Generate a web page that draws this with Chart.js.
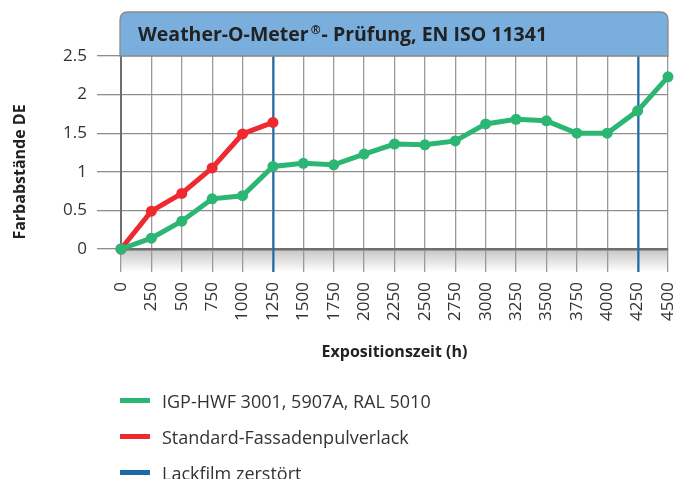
<!DOCTYPE html>
<html><head><meta charset="utf-8">
<script src="https://cdn.jsdelivr.net/npm/chart.js@4/dist/chart.umd.min.js"></script>
<style>
html,body{margin:0;padding:0;background:#fff;}
#wrap{position:relative;width:693px;height:479px;overflow:hidden;}
#c{position:absolute;left:0;top:0;}
.leg{position:absolute;left:120px;height:36px;font-family:"Open Sans",sans-serif;font-size:18px;color:#333;white-space:nowrap;}
.leg .sw{position:absolute;left:0;top:-3px;width:30px;height:5px;}
.leg .tx{position:absolute;left:42px;top:-13px;line-height:26px;}
</style></head>
<body>
<div id="wrap">
<canvas id="c" width="693" height="479"></canvas>
</div>
<script>
const hours = [0,250,500,750,1000,1250,1500,1750,2000,2250,2500,2750,3000,3250,3500,3750,4000,4250,4500];
const igpValues = [0,0.14,0.36,0.65,0.69,1.07,1.11,1.09,1.23,1.36,1.35,1.40,1.62,1.68,1.66,1.50,1.50,1.79,2.23];
const standardHours = [0,250,500,750,1000,1250];
const standardValues = [0,0.49,0.72,1.05,1.49,1.64];
const destroyedAt = [1250,4250];
const seriesNames = ['IGP-HWF 3001, 5907A, RAL 5010','Standard-Fassadenpulverlack','Lackfilm zerstört'];
const seriesColors = ['#2bb673','#ee2a30','#1d6aa8'];
const chartTitleMain = 'Weather-O-Meter';
const chartTitleSup = '®';
const chartTitleRest = '- Prüfung, EN ISO 11341';
const yTitle = 'Farbabstände DE';
const xTitle = 'Expositionszeit (h)';

const FONT = '"Open Sans", sans-serif';
const BAND = 23;

const deco = {
  id:'deco',
  beforeDraw(chart){
    const {ctx, chartArea:a} = chart;
    const g = ctx.createLinearGradient(0,a.bottom,0,a.bottom+BAND);
    g.addColorStop(0,'#c4c4c6');
    g.addColorStop(1,'#ffffff');
    ctx.save();
    ctx.fillStyle = g;
    ctx.fillRect(a.left,a.bottom,a.right-a.left,BAND);
    ctx.restore();
  },
  beforeDatasetsDraw(chart){
    const {ctx, chartArea:a, scales:{x}} = chart;
    ctx.save();
    ctx.strokeStyle = seriesColors[2];
    ctx.lineWidth = 2;
    destroyedAt.forEach(v=>{
      const px = Math.round(x.getPixelForValue(v))+0.5;
      ctx.beginPath();ctx.moveTo(px,a.top);ctx.lineTo(px,a.bottom+BAND);ctx.stroke();
    });
    ctx.restore();
  },
  afterDraw(chart){
    const {ctx, chartArea:a} = chart;
    ctx.save();
    const l=a.left-1, r=a.right, t=12, b=a.top, rad=8;
    ctx.beginPath();
    ctx.moveTo(l,b);ctx.lineTo(l,t+rad);ctx.quadraticCurveTo(l,t,l+rad,t);
    ctx.lineTo(r-rad,t);ctx.quadraticCurveTo(r,t,r,t+rad);ctx.lineTo(r,b);ctx.closePath();
    ctx.fillStyle='#7aaedd';ctx.fill();
    ctx.strokeStyle='#8a8a8a';ctx.lineWidth=1.3;ctx.stroke();
    ctx.fillStyle='#222';
    ctx.textBaseline='alphabetic';ctx.textAlign='left';
    let xx=l+18; const base=41;
    ctx.font='bold 19.5px '+FONT;
    ctx.fillText(chartTitleMain,xx,base); xx+=ctx.measureText(chartTitleMain).width+2;
    ctx.font='bold 12px '+FONT;
    ctx.fillText(chartTitleSup,xx,base-7); xx+=ctx.measureText(chartTitleSup).width+1;
    ctx.font='bold 19.5px '+FONT;
    ctx.fillText(chartTitleRest,xx,base);
    ctx.translate(20,172);ctx.rotate(-Math.PI/2);
    ctx.font='bold 16px '+FONT;ctx.textAlign='center';ctx.textBaseline='middle';ctx.fillStyle='#222';
    ctx.fillText(yTitle,0,0);
    ctx.restore();
  }
};

new Chart(document.getElementById('c'),{
  type:'line',
  data:{datasets:[
    {label:seriesNames[0],data:hours.map((h,i)=>({x:h,y:igpValues[i]})),borderColor:seriesColors[0],backgroundColor:seriesColors[0],
     borderWidth:5,pointRadius:5.5,pointBorderWidth:0,pointBackgroundColor:seriesColors[0],clip:false,tension:0},
    {label:seriesNames[1],data:standardHours.map((h,i)=>({x:h,y:standardValues[i]})),borderColor:seriesColors[1],backgroundColor:seriesColors[1],
     borderWidth:5,pointRadius:5.5,pointBorderWidth:0,pointBackgroundColor:seriesColors[1],clip:false,tension:0}
  ]},
  options:{
    responsive:false,animation:false,devicePixelRatio:1,
    layout:{padding:{left:0,right:25,top:56,bottom:109}},
    plugins:{legend:{display:false},tooltip:{enabled:false},title:{display:false}},
    scales:{
      x:{type:'linear',min:0,max:4500,
        ticks:{stepSize:250,autoSkip:false,minRotation:90,maxRotation:90,padding:10,color:'#333',font:{family:FONT,size:17},callback:v=>String(v)},
        grid:{color:'#9a9a9a',lineWidth:1.3,tickLength:BAND,drawTicks:true},
        border:{display:true,color:'#6e6e6e',width:2.5},
        title:{display:true,text:xTitle,color:'#222',font:{family:FONT,size:16,weight:'bold'},padding:{top:4,bottom:8}},
        afterFit:s=>{s.height=121;s.paddingLeft=0;s.paddingRight=0;}
      },
      y:{min:0,max:2.5,
        ticks:{stepSize:0.5,padding:10,color:'#333',font:{family:FONT,size:17},callback:v=>String(v)},
        grid:{color:'#8e8e8e',lineWidth:1.3,tickLength:24},
        border:{display:true,color:'#6e6e6e',width:2},
        afterFit:s=>{s.width=121;s.paddingTop=0;s.paddingBottom=0;}
      }
    }
  },
  plugins:[deco]
});

const wrap=document.getElementById('wrap');
const rowsY=[401,437,473];
seriesNames.forEach((n,i)=>{
  const d=document.createElement('div');d.className='leg';d.style.top=rowsY[i]+'px';
  const sw=document.createElement('div');sw.className='sw';sw.style.background=seriesColors[i];
  const tx=document.createElement('div');tx.className='tx';tx.textContent=n;
  d.appendChild(sw);d.appendChild(tx);wrap.appendChild(d);
});
</script>
</body></html>
